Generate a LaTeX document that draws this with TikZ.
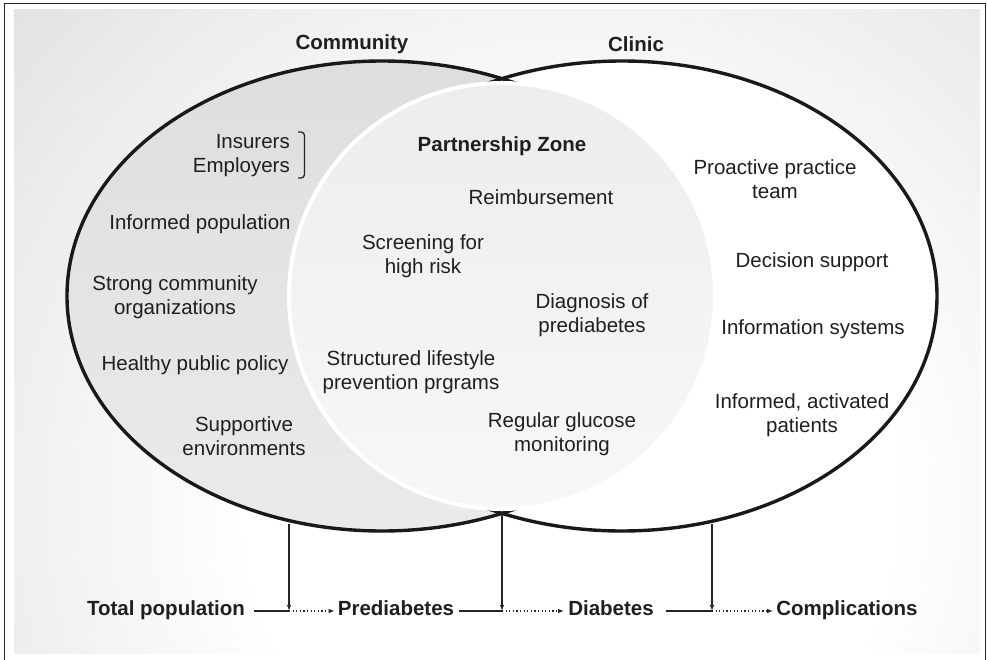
\documentclass[tikz,border=0pt]{standalone}
\usepackage{fontspec}
\setmainfont{Liberation Sans}
\usetikzlibrary{arrows.meta}
% soft glow for the background panel
\pgfdeclareradialshading{panelglow}{\pgfpoint{0bp}{0bp}}{color(0bp)=(white); color(9bp)=(white); color(30bp)=(gray!40); color(50bp)=(gray!40)}

\begin{document}
\begin{tikzpicture}[x=1pt,y=-1pt,
  lbl/.style={font=\fontsize{20.5}{24}\selectfont, align=center, inner sep=0pt, text=black!88, yshift=-2pt},
  hdr/.style={lbl, font=\fontsize{20.5}{24}\selectfont\bfseries},
  flow/.style={hdr, inner xsep=3pt, text height=14.5pt, text depth=4.5pt, yshift=2pt},
  outline/.style={line width=3.4pt, black!90},
  link/.style={line width=1.1pt, black!85},
  tipped/.style={link, -{Latex[length=6pt,width=4.5pt]}},
  dotlink/.style={tipped, line width=1.3pt, dash pattern=on 1.2pt off 2.4pt}]
\useasboundingbox (0,0) rectangle (987,660);

% frame and shaded panel
\draw[line width=1.6pt, black!85] (4.5,670) -- (4.5,3.5) -- (985.5,3.5) -- (985.5,670);
\begin{scope}
  \clip (14,10) rectangle (980,653);
  \shade[shading=panelglow] (570,500) circle [radius=900];
\end{scope}

% the two sets
\shade[top color=gray!26, bottom color=gray!16] (382,296) ellipse [x radius=315, y radius=235];
\fill[white] (622,296) ellipse [x radius=315, y radius=235];
\draw[outline] (382,296) ellipse [x radius=315, y radius=235];
\draw[outline] (622,296) ellipse [x radius=315, y radius=235];

% partnership zone
\shade[top color=gray!14, bottom color=gray!6] (502,296) circle [radius=213];
\draw[white, line width=4pt] (502,296) circle [radius=213];

% headings
\node[hdr] (comm) at (352,42) {Community};
\node[hdr] (clin) at (636,42) {Clinic};
\node[hdr] (pz) at (502,144) {Partnership Zone};

% community side
\node[lbl, align=right, anchor=east] (ins) at (290,154) {Insurers\\Employers};
\draw[line width=1.3pt, black!85, rounded corners=3.5pt] (298,132) -- (304.5,132) -- (304.5,178) -- (298,178);
\node[lbl] (infpop) at (200,222) {Informed population};
\node[lbl] (strong) at (175,295) {Strong community\\organizations};
\node[lbl] (healthy) at (195,363) {Healthy public policy};
\node[lbl] (supp) at (244,434) {Supportive\\environments};

% shared zone
\node[lbl] (reimb) at (541,195) {Reimbursement};
\node[lbl] (screen) at (423,254) {Screening for\\high risk};
\node[lbl] (diag) at (592,313) {Diagnosis of\\prediabetes};
\node[lbl] (struct) at (411,370) {Structured lifestyle\\prevention prgrams};
\node[lbl] (gluc) at (562,432) {Regular glucose\\monitoring};

% clinic side
\node[lbl] (team) at (775,177) {Proactive practice\\team};
\node[lbl] (decis) at (812,260) {Decision support};
\node[lbl] (infosys) at (813,327) {Information systems};
\node[lbl] (patients) at (802,413) {Informed, activated\\patients};

% progression row
\node[flow] (total) at (166,610) {Total population};
\node[flow] (pre) at (396,610) {Prediabetes};
\node[flow] (diab) at (611,610) {Diabetes};
\node[flow] (compl) at (847,610) {Complications};

\coordinate (j1) at (289,611);
\coordinate (j2) at (502,611);
\coordinate (j3) at (712,611);
\coordinate (t1) at (289,524);
\coordinate (t2) at (502,512);
\coordinate (t3) at (712,524);

\draw[link] (total.east |- j1) ++(6,0) -- (j1);
\draw[dotlink] (j1) -- (pre.west |- j1);
\draw[link] (pre.east |- j2) ++(2,0) -- (j2);
\draw[dotlink] (j2) -- ([xshift=-1pt]diab.west |- j2);
\draw[link] (diab.east |- j3) ++(9,0) -- (j3);
\draw[dotlink] (j3) -- (compl.west |- j3);

\draw[tipped] (t1) -- (j1);
\draw[tipped] (t2) -- (j2);
\draw[tipped] (t3) -- (j3);
\end{tikzpicture}
\end{document}
